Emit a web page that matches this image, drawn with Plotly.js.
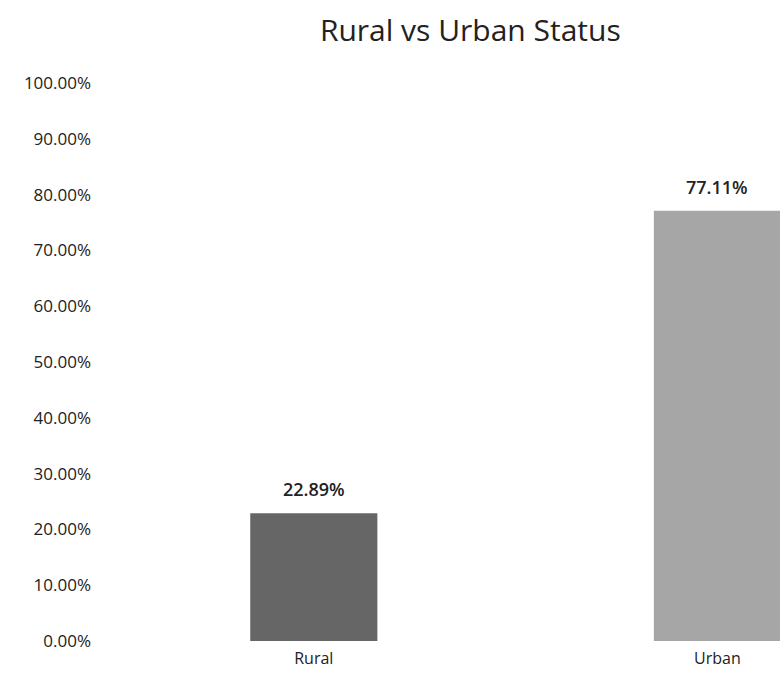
<!DOCTYPE html>
<html>
<head>
<meta charset="utf-8">
<script src="https://cdn.plot.ly/plotly-3.0.1.min.js"></script>
<style>
  html, body { margin: 0; padding: 0; background: #ffffff; }
  #chart { width: 780px; height: 682px; }
</style>
</head>
<body>
<div id="chart"></div>
<script>
// values
let categories = ["Rural", "Urban"];
let shares = [0.2289, 0.7711];
let barColors = ["#666666", "#a6a6a6"];
let yTicks = [0, 0.1, 0.2, 0.3, 0.4, 0.5, 0.6, 0.7, 0.8, 0.9, 1.0];

let fontFamily = "'Open Sans', Lato, sans-serif";
let textColor = "#222222";

let barData = [{
  type: "bar",
  x: categories,
  y: shares,
  width: 0.315,
  marker: { color: barColors },
  hoverinfo: "none"
}];

let labelNotes = categories.map(function(cat, i) {
  return {
    x: cat,
    y: shares[i],
    text: (shares[i] * 100).toFixed(2) + "%",
    showarrow: false,
    yanchor: "bottom",
    yshift: 10,
    font: { family: fontFamily, size: 18, color: textColor, weight: 600 }
  };
});

let barLayout = {
  width: 780,
  height: 682,
  paper_bgcolor: "#ffffff",
  plot_bgcolor: "#ffffff",
  font: { family: fontFamily, color: textColor },
  margin: { l: 112, r: 0, t: 83, b: 41 },
  showlegend: false,
  title: {
    text: "Rural vs Urban Status",
    font: { family: fontFamily, size: 30, color: textColor },
    xref: "container",
    x: 0.603,
    xanchor: "center",
    yref: "container",
    y: 0.955,
    yanchor: "middle"
  },
  xaxis: {
    type: "category",
    range: [-0.5, 1.155],
    showgrid: false,
    zeroline: false,
    showline: false,
    ticks: "",
    tickfont: { family: fontFamily, size: 16, color: textColor },
    ticklabelstandoff: 6
  },
  yaxis: {
    range: [0, 1],
    tickvals: yTicks,
    tickformat: ".2%",
    showgrid: false,
    zeroline: false,
    showline: false,
    ticks: "",
    tickfont: { family: fontFamily, size: 17, color: textColor },
    ticklabelstandoff: 20
  },
  annotations: labelNotes
};

Plotly.newPlot("chart", barData, barLayout, { displayModeBar: false, staticPlot: true });
</script>
</body>
</html>
